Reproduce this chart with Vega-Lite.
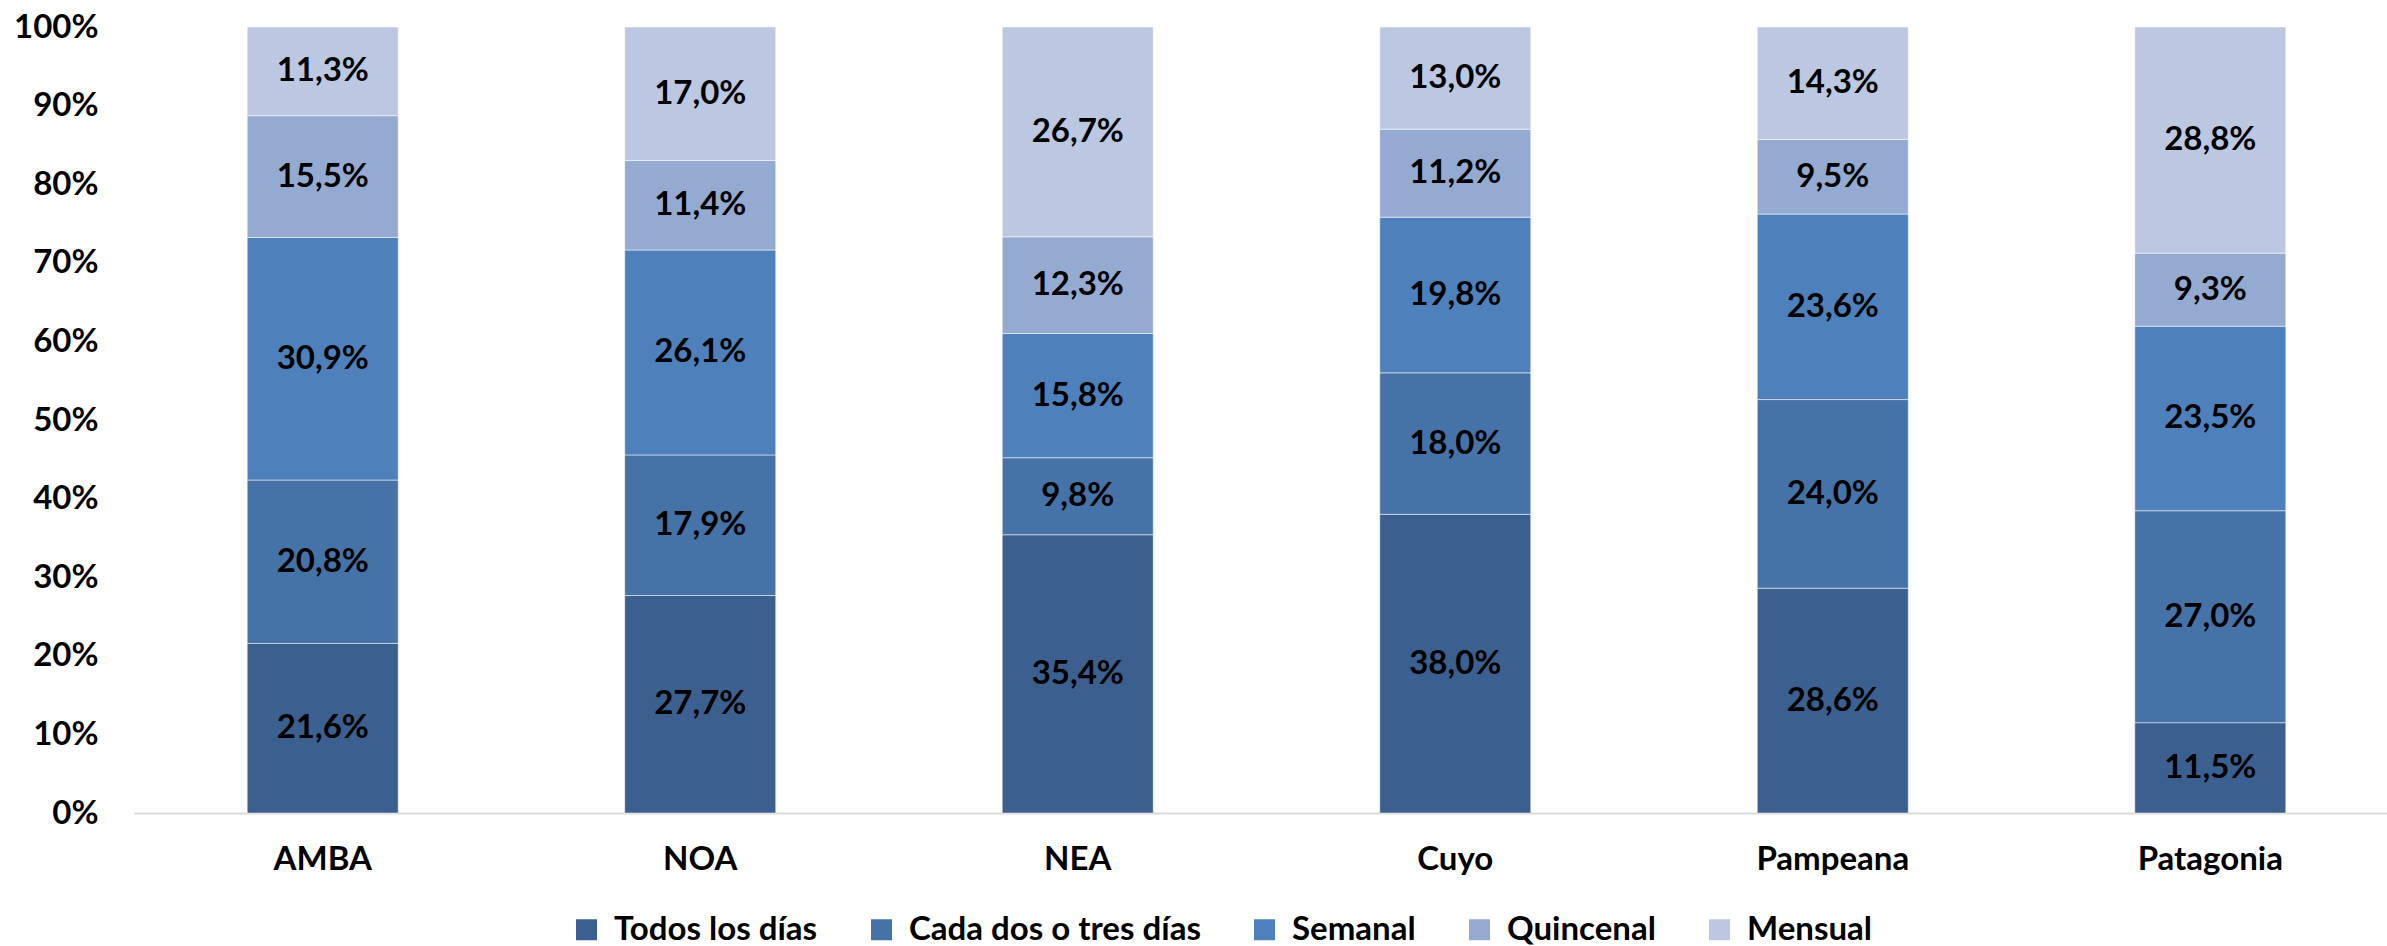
{
  "$schema": "https://vega.github.io/schema/vega-lite/v6.json",
  "width": 2253,
  "height": 786,
  "autosize": {"type": "none"},
  "padding": {"left": 134, "top": 27, "right": 0, "bottom": 133},
  "background": "white",
  "config": {
    "view": {"stroke": null},
    "font": "Lato",
    "locale": {"number": {"decimal": ",", "thousands": ".", "grouping": [3], "currency": ["$", ""]}}
  },
  "data": {
    "values": [
      {"region": "AMBA", "freq": "Todos los días", "k": 1, "v": 0.216},
      {"region": "AMBA", "freq": "Cada dos o tres días", "k": 2, "v": 0.208},
      {"region": "AMBA", "freq": "Semanal", "k": 3, "v": 0.309},
      {"region": "AMBA", "freq": "Quincenal", "k": 4, "v": 0.155},
      {"region": "AMBA", "freq": "Mensual", "k": 5, "v": 0.113},
      {"region": "NOA", "freq": "Todos los días", "k": 1, "v": 0.277},
      {"region": "NOA", "freq": "Cada dos o tres días", "k": 2, "v": 0.179},
      {"region": "NOA", "freq": "Semanal", "k": 3, "v": 0.261},
      {"region": "NOA", "freq": "Quincenal", "k": 4, "v": 0.114},
      {"region": "NOA", "freq": "Mensual", "k": 5, "v": 0.170},
      {"region": "NEA", "freq": "Todos los días", "k": 1, "v": 0.354},
      {"region": "NEA", "freq": "Cada dos o tres días", "k": 2, "v": 0.098},
      {"region": "NEA", "freq": "Semanal", "k": 3, "v": 0.158},
      {"region": "NEA", "freq": "Quincenal", "k": 4, "v": 0.123},
      {"region": "NEA", "freq": "Mensual", "k": 5, "v": 0.267},
      {"region": "Cuyo", "freq": "Todos los días", "k": 1, "v": 0.380},
      {"region": "Cuyo", "freq": "Cada dos o tres días", "k": 2, "v": 0.180},
      {"region": "Cuyo", "freq": "Semanal", "k": 3, "v": 0.198},
      {"region": "Cuyo", "freq": "Quincenal", "k": 4, "v": 0.112},
      {"region": "Cuyo", "freq": "Mensual", "k": 5, "v": 0.130},
      {"region": "Pampeana", "freq": "Todos los días", "k": 1, "v": 0.286},
      {"region": "Pampeana", "freq": "Cada dos o tres días", "k": 2, "v": 0.240},
      {"region": "Pampeana", "freq": "Semanal", "k": 3, "v": 0.236},
      {"region": "Pampeana", "freq": "Quincenal", "k": 4, "v": 0.095},
      {"region": "Pampeana", "freq": "Mensual", "k": 5, "v": 0.143},
      {"region": "Patagonia", "freq": "Todos los días", "k": 1, "v": 0.115},
      {"region": "Patagonia", "freq": "Cada dos o tres días", "k": 2, "v": 0.270},
      {"region": "Patagonia", "freq": "Semanal", "k": 3, "v": 0.235},
      {"region": "Patagonia", "freq": "Quincenal", "k": 4, "v": 0.093},
      {"region": "Patagonia", "freq": "Mensual", "k": 5, "v": 0.288}
    ]
  },
  "encoding": {
    "x": {
      "field": "region",
      "type": "nominal",
      "sort": ["AMBA", "NOA", "NEA", "Cuyo", "Pampeana", "Patagonia"],
      "scale": {"paddingInner": 0.6, "paddingOuter": 0.284, "align": 0.528},
      "axis": {
        "title": null,
        "labelAngle": 0,
        "labelFont": "Lato",
        "labelFontWeight": "bold",
        "labelFontSize": 33,
        "labelColor": "#000000",
        "labelPadding": 30,
        "ticks": false,
        "domainColor": "#d9d9d9",
        "domainWidth": 2,
        "grid": false
      }
    },
    "y": {
      "field": "v",
      "type": "quantitative",
      "stack": "normalize",
      "scale": {"domain": [0, 1], "nice": false},
      "axis": {
        "title": null,
        "format": ".0%",
        "values": [0, 0.1, 0.2, 0.3, 0.4, 0.5, 0.6, 0.7, 0.8, 0.9, 1],
        "labelFont": "Lato",
        "labelFontWeight": "bold",
        "labelFontSize": 33,
        "labelColor": "#000000",
        "labelPadding": 36,
        "ticks": false,
        "domain": false,
        "grid": false
      }
    },
    "order": {"field": "k", "type": "quantitative", "sort": "ascending"}
  },
  "layer": [
    {
      "mark": {"type": "bar", "stroke": "#ffffff", "strokeWidth": 1, "strokeOpacity": 0.5},
      "encoding": {
        "color": {
          "field": "freq",
          "type": "nominal",
          "sort": ["Todos los días", "Cada dos o tres días", "Semanal", "Quincenal", "Mensual"],
          "scale": {
            "domain": ["Todos los días", "Cada dos o tres días", "Semanal", "Quincenal", "Mensual"],
            "range": ["#3B5F8E", "#4572A7", "#4E80BC", "#95AAD1", "#BCC8E1"]
          },
          "legend": {
            "title": null,
            "orient": "none",
            "direction": "horizontal",
            "columns": 5,
            "legendX": 436,
            "legendY": 886,
            "padding": 0,
            "columnPadding": 47,
            "symbolType": "square",
            "symbolSize": 441,
            "symbolStrokeWidth": 0,
            "symbolOpacity": 1,
            "labelOffset": 11,
            "labelFont": "Lato",
            "labelFontWeight": "bold",
            "labelFontSize": 33,
            "labelColor": "#000000",
            "labelLimit": 600
          }
        }
      }
    },
    {
      "mark": {"type": "text", "font": "Lato", "fontWeight": "bold", "fontSize": 33, "color": "#000000", "baseline": "middle"},
      "encoding": {
        "y": {"field": "v", "type": "quantitative", "stack": "normalize", "bandPosition": 0.5},
        "detail": {"field": "freq", "type": "nominal"},
        "text": {"field": "v", "type": "quantitative", "format": ".1%"}
      }
    }
  ]
}
